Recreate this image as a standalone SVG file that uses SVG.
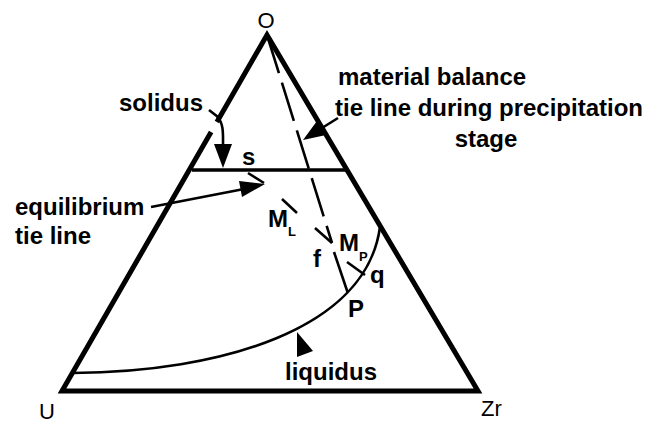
<svg xmlns="http://www.w3.org/2000/svg" width="652" height="424" viewBox="0 0 652 424">
<style>
  .lbl { font-family: "Liberation Sans", Arial, sans-serif; font-weight: bold; font-size: 24px; fill: #000; }
  .vtx { font-family: "Liberation Sans", Arial, sans-serif; font-size: 22px; fill: #000; }
  .sub { font-family: "Liberation Sans", Arial, sans-serif; font-weight: bold; font-size: 13px; fill: #000; }
  .thick { fill: none; stroke: #000; stroke-width: 5; stroke-linejoin: miter; stroke-miterlimit: 10; }
  .med { fill: none; stroke: #000; stroke-width: 3.5; }
  .thin { fill: none; stroke: #000; stroke-width: 2.6; }
  .head { fill: #000; stroke: none; }
</style>
<rect width="652" height="424" fill="#fff"/>

<g id="triangle">
  <path class="thick" d="M216.9,122 L267,35 L478,391 L62,391 L211.1,132"/>
</g>

<g id="solidus-line">
  <line class="med" x1="192" y1="170" x2="347" y2="170"/>
</g>

<g id="liquidus-curve">
  <path class="thin" d="M73,373 C220,372 366,330 380,227"/>
</g>

<g id="connectors">
  <line class="thin" x1="267" y1="35" x2="332" y2="243" stroke-dasharray="40 10"/>
  <line class="thin" x1="315" y1="228" x2="332" y2="243"/>
  <line class="thin" x1="334" y1="252" x2="347.5" y2="292"/>
  <line class="thin" x1="282" y1="199" x2="297" y2="213"/>
  <line class="thin" x1="347" y1="262" x2="365" y2="275"/>
  <line class="thin" x1="209" y1="110" x2="218" y2="117"/>
  <path class="thin" d="M217,116 C224,124 223,134 223,146"/>
  <polygon class="head" points="214,144 232,144 223,168"/>
  <line class="thin" x1="151" y1="207" x2="244" y2="189"/>
  <polygon class="head" points="242,197 239,181 265,184"/>
  <line class="thin" x1="248" y1="173" x2="264" y2="183"/>
  <line class="thin" x1="338" y1="118" x2="322" y2="128"/>
  <polygon class="head" points="326,135 317,121 303,140"/>
  <polygon class="head" points="297,332 313,351 297,357"/>
</g>

<g id="label-O"><text class="vtx" x="266" y="28" text-anchor="middle">O</text></g>
<g id="label-U"><text class="vtx" x="39" y="419">U</text></g>
<g id="label-Zr"><text class="vtx" x="481" y="416">Zr</text></g>
<g id="label-solidus"><text class="lbl" x="119" y="111">solidus</text></g>
<g id="label-s"><text class="lbl" x="242" y="165">s</text></g>
<g id="label-equilibrium">
  <text class="lbl" x="15" y="215">equilibrium</text>
  <text class="lbl" x="15" y="244">tie line</text>
</g>
<g id="label-material">
  <text class="lbl" x="338" y="85">material balance</text>
  <text class="lbl" x="335" y="116">tie line during precipitation</text>
  <text class="lbl" x="486" y="147" text-anchor="middle">stage</text>
</g>
<g id="label-ML">
  <text class="lbl" x="268" y="227" font-size="21">M</text>
  <text class="sub" x="288" y="236">L</text>
</g>
<g id="label-f"><text class="lbl" x="313" y="267">f</text></g>
<g id="label-MP">
  <text class="lbl" x="339" y="251" font-size="20">M</text>
  <text class="sub" x="359" y="261">P</text>
</g>
<g id="label-q"><text class="lbl" x="370" y="283">q</text></g>
<g id="label-P"><text class="lbl" x="348" y="317" font-size="22">P</text></g>
<g id="label-liquidus"><text class="lbl" x="285" y="380">liquidus</text></g>
</svg>
